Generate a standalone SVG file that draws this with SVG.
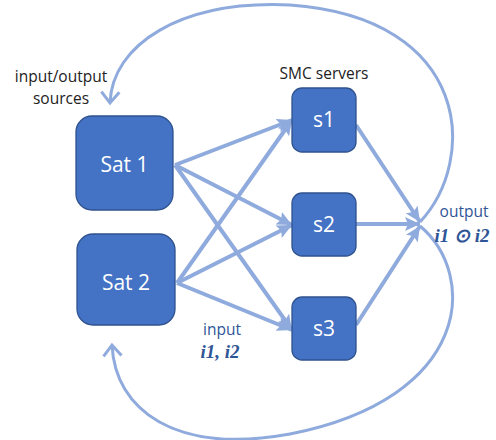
<svg xmlns="http://www.w3.org/2000/svg" width="496" height="440" viewBox="0 0 496 440">
<defs>
<style>
.box{fill:#4472C4;stroke:#2F528F;stroke-width:1.3}
.bt{fill:#fff;font-family:"Open Sans","Liberation Sans",sans-serif;font-size:21px;text-anchor:middle}
.ln{stroke:#8FAADC;stroke-width:4;fill:none}
.arc{stroke:#8FAADC;stroke-width:3;fill:none}
.lab{fill:#222;font-family:"Open Sans","Liberation Sans",sans-serif;font-size:15.5px;text-anchor:middle}
.blu{fill:#2F5597;font-family:"Open Sans","Liberation Sans",sans-serif;font-size:15.5px;text-anchor:middle}
.math{fill:#2F5597;font-family:"Liberation Serif",serif;font-size:19px;font-weight:bold;font-style:italic;text-anchor:middle}
</style>
<marker id="tri" markerUnits="userSpaceOnUse" markerWidth="16" markerHeight="14" refX="15" refY="7" orient="auto">
<path d="M0,0 L15,7 L0,14 L3,7 Z" fill="#8FAADC"/>
</marker>
<marker id="chev" markerUnits="userSpaceOnUse" markerWidth="22" markerHeight="22" refX="13" refY="11" orient="auto">
<path d="M2,2 L13,11 L2,20" fill="none" stroke="#8FAADC" stroke-width="3"/>
</marker>
</defs>
<g id="connectors">
<line class="ln" x1="175" y1="165" x2="292" y2="120" marker-end="url(#tri)"/>
<line class="ln" x1="175" y1="165" x2="292" y2="225" marker-end="url(#tri)"/>
<line class="ln" x1="175" y1="165" x2="292" y2="330" marker-end="url(#tri)"/>
<line class="ln" x1="177" y1="283" x2="292" y2="120" marker-end="url(#tri)"/>
<line class="ln" x1="177" y1="283" x2="292" y2="225" marker-end="url(#tri)"/>
<line class="ln" x1="177" y1="283" x2="292" y2="330" marker-end="url(#tri)"/>
<line class="ln" x1="356" y1="125" x2="420" y2="222" marker-end="url(#tri)"/>
<line class="ln" x1="356" y1="224" x2="420" y2="224" marker-end="url(#tri)"/>
<line class="ln" x1="356" y1="325" x2="420" y2="226" marker-end="url(#tri)"/>
<path class="arc" d="M420,222 C478,160 472,18 290,5 C180,0 112,45 110,103" marker-end="url(#chev)"/>
<path class="arc" d="M420,226 C478,275 472,398 290,434 C175,455 115,410 112,345" marker-end="url(#chev)"/>
</g>
<g id="sat1"><rect class="box" x="76" y="116" width="97" height="94" rx="16"/><text class="bt" x="124.5" y="172">Sat 1</text></g>
<g id="sat2"><rect class="box" x="77" y="234" width="98" height="91" rx="16"/><text class="bt" x="126" y="290">Sat 2</text></g>
<g id="s1"><rect class="box" x="292" y="88" width="64" height="64" rx="10"/><text class="bt" x="324" y="127">s1</text></g>
<g id="s2"><rect class="box" x="292" y="193" width="64" height="63" rx="10"/><text class="bt" x="324" y="232">s2</text></g>
<g id="s3"><rect class="box" x="292" y="297" width="64" height="63" rx="10"/><text class="bt" x="324" y="336">s3</text></g>
<g id="labels">
<text class="lab" x="61" y="82">input/output</text>
<text class="lab" x="61" y="104">sources</text>
<text class="lab" x="324" y="79">SMC servers</text>
<text class="blu" x="222" y="335">input</text>
<text class="math" x="220" y="358">i1, i2</text>
<text class="blu" x="464" y="217">output</text>
<text class="math" x="462" y="242">i1 ⊙ i2</text>
</g>
</svg>
